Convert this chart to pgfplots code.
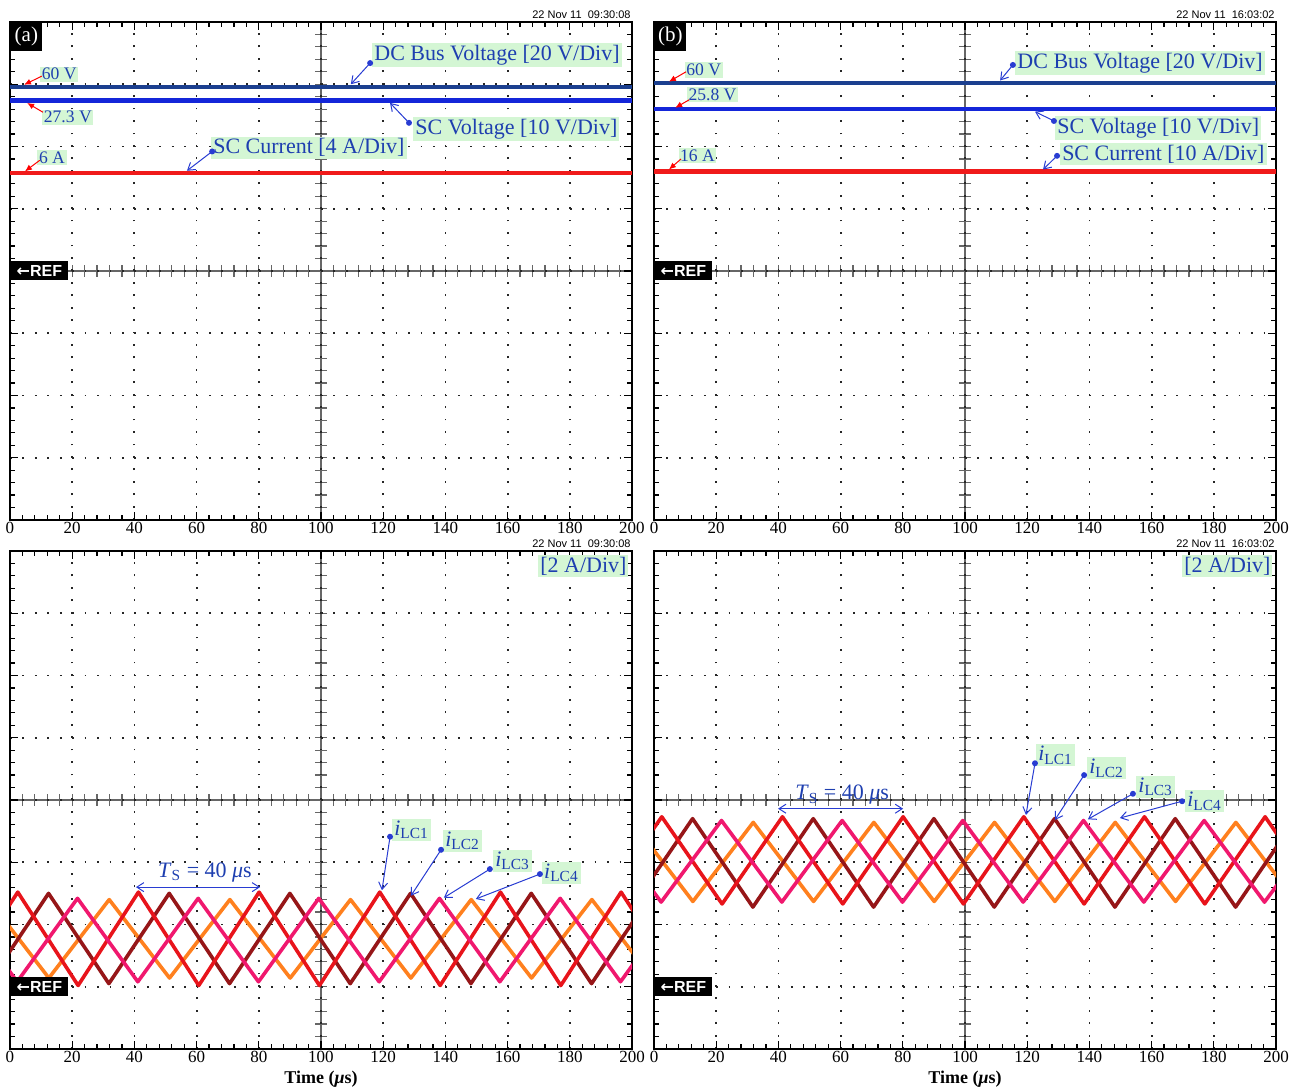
\documentclass[border=0pt]{standalone}
\usepackage{pgfplots}
\pgfplotsset{compat=1.18}
\usepackage{fontspec}
\setmainfont{Liberation Serif}
\setsansfont{Liberation Sans}
\newfontfamily\dejavu{DejaVu Sans}
\usetikzlibrary{arrows.meta}

\definecolor{labgreen}{RGB}{212,246,212}
\definecolor{labblue}{RGB}{30,63,176}
\definecolor{annblue}{RGB}{40,60,210}
\definecolor{busblue}{RGB}{27,63,143}
\definecolor{scvblue}{RGB}{20,38,217}
\definecolor{scred}{RGB}{240,26,26}
\definecolor{cred}{RGB}{232,20,27}
\definecolor{cmaroon}{RGB}{150,22,24}
\definecolor{cpink}{RGB}{240,24,110}
\definecolor{corange}{RGB}{255,128,30}

\pgfplotsset{
  scopeaxis/.style={
    scale only axis, width=311pt, height=249pt, anchor=south west,
    xmin=0, xmax=200, ymin=-4, ymax=4,
    xtick={0,20,...,200}, minor x tick num=4,
    ytick={-4,...,4}, yticklabels={}, minor y tick num=4,
    yticklabel style={opacity=0, text opacity=0},
    tick align=inside, major tick length=4pt, minor tick length=2.5pt,
    every tick/.style={black, line width=0.6pt},
    axis line style={line width=1.1pt},
    grid=major,
    major grid style={black!85, line width=0.9pt, dash pattern=on 0.9pt off 5.32pt},
    /pgf/number format/assume math mode=true,
    xticklabel style={font=\fontsize{8.5}{10}\selectfont, inner sep=1pt},
  },
  tri/.style={line width=1.8pt, line join=round},
  flat/.style={line width=2.2pt},
}
\tikzset{
  lab/.style={fill=labgreen, text=labblue, inner sep=1pt, font=\fontsize{11}{12}\selectfont},
  slab/.style={fill=labgreen, text=labblue, inner sep=0.8pt, font=\fontsize{8.8}{10}\selectfont},
  ann/.style={draw=annblue, line width=0.5pt, -{Straight Barb[length=3.5pt,width=4.5pt]}},
  rann/.style={draw=red, line width=0.5pt, -{Latex[length=3.5pt,width=3pt]}},
  refbox/.style={fill=black, text=white, anchor=west, minimum width=29pt, minimum height=9.5pt, inner sep=0pt, font=\sffamily\bfseries\fontsize{8}{9}\selectfont},
  idbox/.style={fill=black, text=white, anchor=north west, minimum width=16pt, minimum height=14.5pt, inner sep=0pt, font=\fontsize{10.5}{12}\selectfont},
  stamp/.style={anchor=base east, inner sep=0pt, font=\sffamily\fontsize{5.5}{6}\selectfont},
}
\newcommand{\crosshair}[2]{%
  \begin{scope}[shift={(#1pt,#2pt)}]
    \draw[line width=0.9pt, black!60] (0,124.5pt) -- (311pt,124.5pt);
    \draw[line width=0.9pt, black!60] (155.5pt,0) -- (155.5pt,249pt);
    \foreach \i in {1,...,49} \draw[line width=0.6pt, black!60] (\i*6.22pt,121.5pt) -- (\i*6.22pt,127.5pt);
    \foreach \j in {1,...,39} \draw[line width=0.6pt, black!60] (152.5pt,\j*6.225pt) -- (158.5pt,\j*6.225pt);
  \end{scope}}
\newcommand{\ilc}[1]{\textit{i}\textsubscript{LC#1}}

\begin{document}
\begin{tikzpicture}
\useasboundingbox (0,0) rectangle (651.5pt,546pt);

% ---------------- top left (a)
\crosshair{5}{286}
\begin{axis}[scopeaxis, at={(5pt,286pt)}]
  \addplot[flat, busblue] coordinates {(0,2.96)(200,2.96)};
  \addplot[flat, scvblue] coordinates {(0,2.74)(200,2.74)};
  \addplot[flat, scred] coordinates {(0,1.57)(200,1.57)};
  \node[idbox] at (axis cs:0,4) {(a)};
  \node[refbox] at (axis cs:0,0) {{\dejavu\bfseries ←}REF};
  \node[slab] at (axis cs:15.8,3.16) {60 V};
  \draw[rann] (axis cs:10.2,3.13) -- (axis cs:4.5,2.99);
  \node[slab] at (axis cs:18.6,2.47) {27.3 V};
  \draw[rann] (axis cs:10.6,2.55) -- (axis cs:5.5,2.70);
  \node[slab] at (axis cs:13.5,1.82) {6 A};
  \draw[rann] (axis cs:9.6,1.78) -- (axis cs:4.8,1.60);
  \node[lab, anchor=west] at (axis cs:64.6,1.98) {SC Current [4 A/Div]};
  \draw[ann] (axis cs:65,1.92) -- (axis cs:56.9,1.61);
  \fill[annblue] (axis cs:65,1.92) circle (1.5pt);
  \node[lab, anchor=west] at (axis cs:116.4,3.47) {DC Bus Voltage [20 V/Div]};
  \draw[ann] (axis cs:115.8,3.34) -- (axis cs:109.6,3.00);
  \fill[annblue] (axis cs:115.8,3.34) circle (1.5pt);
  \node[lab, anchor=west] at (axis cs:129.6,2.28) {SC Voltage [10 V/Div]};
  \draw[ann] (axis cs:128.3,2.38) -- (axis cs:122.2,2.70);
  \fill[annblue] (axis cs:128.3,2.38) circle (1.5pt);
\end{axis}
\node[stamp] at (315.5pt,536.5pt) {22 Nov 11\ \ 09:30:08};

% ---------------- top right (b)
\crosshair{327}{286}
\begin{axis}[scopeaxis, at={(327pt,286pt)}]
  \addplot[flat, busblue] coordinates {(0,3.02)(200,3.02)};
  \addplot[flat, scvblue] coordinates {(0,2.60)(200,2.60)};
  \addplot[flat, scred] coordinates {(0,1.60)(200,1.60)};
  \node[idbox] at (axis cs:0,4) {(b)};
  \node[refbox] at (axis cs:0,0) {{\dejavu\bfseries ←}REF};
  \node[slab] at (axis cs:16,3.23) {60 V};
  \draw[rann] (axis cs:10.3,3.20) -- (axis cs:4.8,3.04);
  \node[slab] at (axis cs:18.8,2.83) {25.8 V};
  \draw[rann] (axis cs:11.3,2.75) -- (axis cs:6.8,2.62);
  \node[slab] at (axis cs:14,1.85) {16 A};
  \draw[rann] (axis cs:8.7,1.80) -- (axis cs:4.8,1.63);
  \node[lab, anchor=west] at (axis cs:116.1,3.34) {DC Bus Voltage [20 V/Div]};
  \draw[ann] (axis cs:115.4,3.31) -- (axis cs:111.3,3.06);
  \fill[annblue] (axis cs:115.4,3.31) circle (1.5pt);
  \node[lab, anchor=west] at (axis cs:128.9,2.30) {SC Voltage [10 V/Div]};
  \draw[ann] (axis cs:128.6,2.41) -- (axis cs:122.5,2.56);
  \fill[annblue] (axis cs:128.6,2.41) circle (1.5pt);
  \node[lab, anchor=west] at (axis cs:130.5,1.88) {SC Current [10 A/Div]};
  \draw[ann] (axis cs:129.6,1.85) -- (axis cs:125.1,1.63);
  \fill[annblue] (axis cs:129.6,1.85) circle (1.5pt);
\end{axis}
\node[stamp] at (637.5pt,536.5pt) {22 Nov 11\ \ 16:03:02};

% ---------------- bottom left (a)
\crosshair{5}{21.5}
\begin{axis}[scopeaxis, at={(5pt,21.5pt)}]
  \addplot[tri, corange] coordinates {(-6.9,-1.60)(12.5,-2.86)(31.9,-1.60)(51.3,-2.86)(70.7,-1.60)(90.1,-2.86)(109.5,-1.60)(128.9,-2.86)(148.3,-1.60)(167.7,-2.86)(187.1,-1.60)(206.5,-2.86)};
  \addplot[tri, cmaroon] coordinates {(-7.0,-2.95)(12.4,-1.50)(31.8,-2.95)(51.2,-1.50)(70.6,-2.95)(90.0,-1.50)(109.4,-2.95)(128.8,-1.50)(148.2,-2.95)(167.6,-1.50)(187.0,-2.95)(206.4,-1.50)};
  \addplot[tri, cred] coordinates {(-16.9,-2.98)(2.5,-1.48)(21.9,-2.98)(41.3,-1.48)(60.7,-2.98)(80.1,-1.48)(99.5,-2.98)(118.9,-1.48)(138.3,-2.98)(157.7,-1.48)(177.1,-2.98)(196.5,-1.48)(215.9,-2.98)};
  \addplot[tri, cpink] coordinates {(-17.1,-1.58)(2.3,-2.92)(21.7,-1.58)(41.1,-2.92)(60.5,-1.58)(79.9,-2.92)(99.3,-1.58)(118.7,-2.92)(138.1,-1.58)(157.5,-2.92)(176.9,-1.58)(196.3,-2.92)(215.7,-1.58)};
  \node[refbox] at (axis cs:0,-3) {{\dejavu\bfseries ←}REF};
  \node[lab, anchor=east] at (axis cs:199,3.76) {[2 A/Div]};
  \node[text=labblue, font=\fontsize{11}{12}\selectfont] at (axis cs:62.7,-1.16) {\textit{T}\textsubscript{S} = 40 \textit{μ}s};
  \draw[annblue, line width=0.5pt, {Straight Barb[length=3.5pt,width=4.5pt]}-{Straight Barb[length=3.5pt,width=4.5pt]}] (axis cs:40.5,-1.40) -- (axis cs:80.4,-1.40);
  \node[lab, anchor=west] at (axis cs:122.8,-0.48) {\ilc{1}};
  \draw[ann] (axis cs:122.2,-0.59) -- (axis cs:119.6,-1.45);
  \fill[annblue] (axis cs:122.2,-0.59) circle (1.5pt);
  \node[lab, anchor=west] at (axis cs:139.2,-0.66) {\ilc{2}};
  \draw[ann] (axis cs:138.6,-0.80) -- (axis cs:128.9,-1.54);
  \fill[annblue] (axis cs:138.6,-0.80) circle (1.5pt);
  \node[lab, anchor=west] at (axis cs:155.3,-0.98) {\ilc{3}};
  \draw[ann] (axis cs:154.3,-1.11) -- (axis cs:139.5,-1.57);
  \fill[annblue] (axis cs:154.3,-1.11) circle (1.5pt);
  \node[lab, anchor=west] at (axis cs:171,-1.17) {\ilc{4}};
  \draw[ann] (axis cs:170.4,-1.19) -- (axis cs:149.8,-1.59);
  \fill[annblue] (axis cs:170.4,-1.19) circle (1.5pt);
\end{axis}
\node[stamp] at (315.5pt,272pt) {22 Nov 11\ \ 09:30:08};
\node[font=\bfseries\fontsize{9}{10}\selectfont] at (160.5pt,6.5pt) {Time (\textit{μ}s)};

% ---------------- bottom right (b)
\crosshair{327}{21.5}
\begin{axis}[scopeaxis, at={(327pt,21.5pt)}]
  \addplot[tri, corange] coordinates {(-6.9,-0.36)(12.5,-1.63)(31.9,-0.36)(51.3,-1.63)(70.7,-0.36)(90.1,-1.63)(109.5,-0.36)(128.9,-1.63)(148.3,-0.36)(167.7,-1.63)(187.1,-0.36)(206.5,-1.63)};
  \addplot[tri, cmaroon] coordinates {(-7.0,-1.72)(12.4,-0.30)(31.8,-1.72)(51.2,-0.30)(70.6,-1.72)(90.0,-0.30)(109.4,-1.72)(128.8,-0.30)(148.2,-1.72)(167.6,-0.30)(187.0,-1.72)(206.4,-0.30)};
  \addplot[tri, cred] coordinates {(-16.9,-1.67)(2.5,-0.27)(21.9,-1.67)(41.3,-0.27)(60.7,-1.67)(80.1,-0.27)(99.5,-1.67)(118.9,-0.27)(138.3,-1.67)(157.7,-0.27)(177.1,-1.67)(196.5,-0.27)(215.9,-1.67)};
  \addplot[tri, cpink] coordinates {(-17.1,-0.33)(2.3,-1.64)(21.7,-0.33)(41.1,-1.64)(60.5,-0.33)(79.9,-1.64)(99.3,-0.33)(118.7,-1.64)(138.1,-0.33)(157.5,-1.64)(176.9,-0.33)(196.3,-1.64)(215.7,-0.33)};
  \node[refbox] at (axis cs:0,-3) {{\dejavu\bfseries ←}REF};
  \node[lab, anchor=east] at (axis cs:199,3.76) {[2 A/Div]};
  \node[text=labblue, font=\fontsize{11}{12}\selectfont] at (axis cs:60.5,0.08) {\textit{T}\textsubscript{S} = 40 \textit{μ}s};
  \draw[annblue, line width=0.5pt, {Straight Barb[length=3.5pt,width=4.5pt]}-{Straight Barb[length=3.5pt,width=4.5pt]}] (axis cs:39.9,-0.14) -- (axis cs:80.1,-0.14);
  \node[lab, anchor=west] at (axis cs:122.8,0.72) {\ilc{1}};
  \draw[ann] (axis cs:122.5,0.59) -- (axis cs:119.6,-0.24);
  \fill[annblue] (axis cs:122.5,0.59) circle (1.5pt);
  \node[lab, anchor=west] at (axis cs:139.2,0.51) {\ilc{2}};
  \draw[ann] (axis cs:138.3,0.40) -- (axis cs:128.9,-0.32);
  \fill[annblue] (axis cs:138.3,0.40) circle (1.5pt);
  \node[lab, anchor=west] at (axis cs:155,0.21) {\ilc{3}};
  \draw[ann] (axis cs:154,0.10) -- (axis cs:139.5,-0.31);
  \fill[annblue] (axis cs:154,0.10) circle (1.5pt);
  \node[lab, anchor=west] at (axis cs:170.7,-0.02) {\ilc{4}};
  \draw[ann] (axis cs:169.8,-0.02) -- (axis cs:149.8,-0.29);
  \fill[annblue] (axis cs:169.8,-0.02) circle (1.5pt);
\end{axis}
\node[stamp] at (637.5pt,272pt) {22 Nov 11\ \ 16:03:02};
\node[font=\bfseries\fontsize{9}{10}\selectfont] at (482.5pt,6.5pt) {Time (\textit{μ}s)};
\end{tikzpicture}
\end{document}
